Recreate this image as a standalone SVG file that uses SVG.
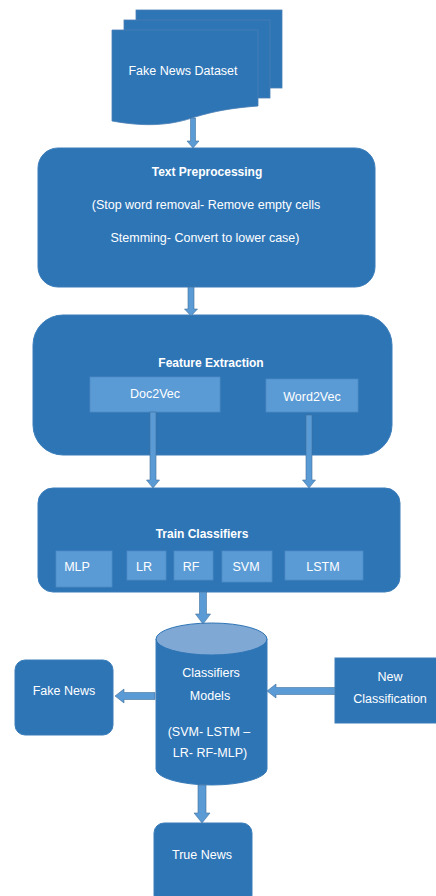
<svg xmlns="http://www.w3.org/2000/svg" width="436" height="896" viewBox="0 0 436 896">
<style>
.main{fill:#2E75B6;stroke:#3B7DBA;stroke-width:1}
.sub{fill:#5B9BD5;stroke:#4F8CC6;stroke-width:0.8}
.arr{fill:#5B9BD5;stroke:#41719C;stroke-width:0.6}
text{font-family:"Liberation Sans",Arial,sans-serif;fill:#FFFFFF;text-anchor:middle;font-size:12.5px}
.b{font-weight:bold;font-size:12px}
</style>
<rect width="436" height="896" fill="#FFFFFF"/>
<g id="dataset">
<rect x="136" y="10" width="146" height="78" fill="#2E75B6" stroke="#4A7FB5" stroke-width="0.8"/>
<rect x="124" y="20" width="146" height="78" fill="#2E75B6" stroke="#4A7FB5" stroke-width="0.8"/>
<path d="M112,30 H258 V106 C232,108 215,111 195,117 C175,124 150,128 112,121 Z" fill="#2E75B6" stroke="#4A7FB5" stroke-width="0.8"/>
<text x="183" y="75">Fake News Dataset</text>
</g>
<g id="preprocessing">
<rect class="main" x="38" y="148" width="337" height="139" rx="20"/>
<text class="b" x="207" y="176">Text Preprocessing</text>
<text x="206" y="209">(Stop word removal- Remove empty cells</text>
<text x="205" y="242">Stemming- Convert to lower case)</text>
</g>
<g id="feature">
<rect class="main" x="33" y="315" width="359" height="140" rx="30"/>
<text class="b" x="211" y="367">Feature Extraction</text>
</g>
<g id="doc2vec">
<rect class="sub" x="90" y="377" width="130" height="35"/>
<text x="155" y="398">Doc2Vec</text>
</g>
<g id="word2vec">
<rect class="sub" x="266" y="379" width="92" height="33"/>
<text x="312" y="401">Word2Vec</text>
</g>
<g id="train">
<rect class="main" x="38" y="488" width="362" height="104" rx="15"/>
<text class="b" x="202" y="538">Train Classifiers</text>
</g>
<g id="mlp"><rect class="sub" x="56" y="551" width="56" height="36"/><text x="77" y="571">MLP</text></g>
<g id="lr"><rect class="sub" x="127" y="551" width="39" height="29"/><text x="144" y="571">LR</text></g>
<g id="rf"><rect class="sub" x="174" y="551" width="39" height="29"/><text x="191" y="571">RF</text></g>
<g id="svm"><rect class="sub" x="222" y="551" width="50" height="31"/><text x="246" y="571">SVM</text></g>
<g id="lstm"><rect class="sub" x="285" y="551" width="78" height="29"/><text x="323" y="571">LSTM</text></g>
<g id="models">
<path d="M156,639 V769 A55.5,16 0 0 0 267,769 V639 Z" fill="#2E75B6" stroke="#3B7DBA" stroke-width="1"/>
<ellipse cx="211.5" cy="639" rx="55.5" ry="16" fill="#7FA8D4" stroke="#2E75B6" stroke-width="1"/>
<text x="211" y="677">Classifiers</text>
<text x="210" y="700">Models</text>
<text x="209" y="736">(SVM- LSTM –</text>
<text x="210" y="757">LR- RF-MLP)</text>
</g>
<g id="fake">
<rect class="main" x="15" y="660" width="98" height="75" rx="10"/>
<text x="64" y="695">Fake News</text>
</g>
<g id="newclass">
<rect class="main" x="335" y="658" width="104" height="65"/>
<text x="390" y="681">New</text>
<text x="390" y="703">Classification</text>
</g>
<g id="true">
<rect class="main" x="154" y="823" width="98" height="82" rx="10"/>
<text x="202" y="859">True News</text>
</g>
<g id="connectors">
<polygon class="arr" points="190.5,118 195.5,118 195.5,141 199,141 193,148 187,141 190.5,141"/>
<polygon class="arr" points="188,287 194,287 194,309 197.5,309 191,316 184.5,309 188,309"/>
<polygon class="arr" points="150,412 156,412 156,480 159.5,480 153,488 146.5,480 150,480"/>
<polygon class="arr" points="306,415 312,415 312,480 315.5,480 309,488 302.5,480 306,480"/>
<polygon class="arr" points="199.5,592 206.5,592 206.5,614 210.5,614 203,624 195.5,614 199.5,614"/>
<polygon class="arr" points="155,692.5 155,699.5 124,699.5 124,703 115,696 124,689 124,692.5"/>
<polygon class="arr" points="335,687.5 335,694.5 276,694.5 276,698 267,691 276,684 276,687.5"/>
<polygon class="arr" points="198,785 206,785 206,813 210,813 202,823 194,813 198,813"/>
</g>
</svg>
